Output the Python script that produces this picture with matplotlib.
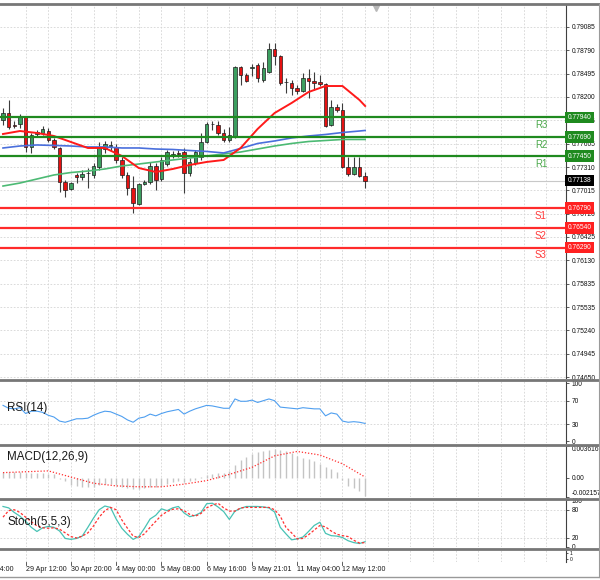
import matplotlib
matplotlib.use("Agg")
from matplotlib import pyplot as plt
from matplotlib import transforms
from matplotlib.lines import Line2D

plt.rcParams['font.family'] = ['Liberation Sans', 'DejaVu Sans']

# H4 candles, oldest first
opens = [0.77907, 0.77995, 0.77843, 0.77856, 0.77945, 0.77565, 0.77729, 0.77742, 0.77767, 0.77653,
         0.77552, 0.77121, 0.77032, 0.77210, 0.77184, 0.77235, 0.77210, 0.77311, 0.77539, 0.77577,
         0.77565, 0.77400, 0.77210, 0.77045, 0.76842, 0.77096, 0.77121, 0.77324, 0.77159, 0.77349,
         0.77463, 0.77489, 0.77501, 0.77235, 0.77362, 0.77438, 0.77628, 0.77856, 0.77843, 0.77742,
         0.77653, 0.77704, 0.78578, 0.78477, 0.78565, 0.78603, 0.78414, 0.78515, 0.78806, 0.78718,
         0.78388, 0.78375, 0.78312, 0.78274, 0.78439, 0.78401, 0.78388, 0.78363, 0.77843, 0.78071,
         0.78033, 0.77311, 0.77222, 0.77311, 0.77197]
highs = [0.78059, 0.78160, 0.77894, 0.77983, 0.77957, 0.77742, 0.77780, 0.77831, 0.77805, 0.77679,
         0.77565, 0.77146, 0.77121, 0.77235, 0.77273, 0.77298, 0.77362, 0.77628, 0.77641, 0.77641,
         0.77603, 0.77438, 0.77248, 0.77197, 0.77108, 0.77146, 0.77375, 0.77362, 0.77438, 0.77527,
         0.77514, 0.77527, 0.77552, 0.77425, 0.77527, 0.77742, 0.77881, 0.77894, 0.77894, 0.77793,
         0.77818, 0.78591, 0.78591, 0.78502, 0.78616, 0.78629, 0.78641, 0.78882, 0.78882, 0.78730,
         0.78439, 0.78414, 0.78350, 0.78502, 0.78553, 0.78515, 0.78477, 0.78375, 0.78160, 0.78109,
         0.78122, 0.77438, 0.77438, 0.77438, 0.77248]
lows = [0.77843, 0.77793, 0.77805, 0.77805, 0.77501, 0.77489, 0.77691, 0.77717, 0.77628, 0.77539,
        0.76994, 0.76931, 0.77020, 0.77108, 0.77146, 0.77045, 0.77172, 0.77273, 0.77489, 0.77514,
        0.77362, 0.77172, 0.76956, 0.76728, 0.76830, 0.77083, 0.77096, 0.77020, 0.77134, 0.77324,
        0.77425, 0.77438, 0.76982, 0.77197, 0.77337, 0.77400, 0.77615, 0.77780, 0.77717, 0.77628,
        0.77628, 0.77679, 0.78350, 0.78388, 0.78464, 0.78388, 0.78388, 0.78502, 0.78604, 0.78350,
        0.78249, 0.78223, 0.78236, 0.78261, 0.78185, 0.78287, 0.78337, 0.77818, 0.77831, 0.78008,
        0.77298, 0.77197, 0.77210, 0.77184, 0.77045]
closes = [0.77995, 0.77818, 0.77831, 0.77945, 0.77565, 0.77717, 0.77755, 0.77793, 0.77653, 0.77565,
          0.77121, 0.77020, 0.77108, 0.77184, 0.77222, 0.77229, 0.77324, 0.77552, 0.77603, 0.77584,
          0.77400, 0.77210, 0.77045, 0.76855, 0.77096, 0.77121, 0.77324, 0.77146, 0.77400, 0.77501,
          0.77476, 0.77482, 0.77235, 0.77375, 0.77501, 0.77628, 0.77856, 0.77850, 0.77742, 0.77653,
          0.77717, 0.78578, 0.78477, 0.78401, 0.78572, 0.78439, 0.78565, 0.78806, 0.78718, 0.78375,
          0.78382, 0.78312, 0.78274, 0.78439, 0.78401, 0.78375, 0.78363, 0.77831, 0.78071, 0.78033,
          0.77311, 0.77222, 0.77311, 0.77197, 0.77138]

# moving averages, read every 3 bars
ma_idx = [0, 3, 6, 9, 12, 15, 18, 21, 24, 27, 30, 33, 36, 39, 42, 45, 48, 51, 54, 57, 60, 63, 64]
ma_fast = [0.77729, 0.77767, 0.77742, 0.77704, 0.77628, 0.77552, 0.77552, 0.77451, 0.77298, 0.77248,
           0.77286, 0.77337, 0.77375, 0.77400, 0.77552, 0.77793, 0.77995, 0.78122, 0.78261, 0.78337,
           0.78337, 0.78160, 0.78084]
ma_mid = [0.77552, 0.77577, 0.77590, 0.77584, 0.77577, 0.77565, 0.77565, 0.77552, 0.77552, 0.77539,
          0.77533, 0.77520, 0.77508, 0.77489, 0.77546, 0.77609, 0.77641, 0.77679, 0.77704, 0.77723,
          0.77748, 0.77767, 0.77774]
ma_slow = [0.77070, 0.77108, 0.77159, 0.77210, 0.77241, 0.77260, 0.77286, 0.77324, 0.77349, 0.77375,
           0.77400, 0.77425, 0.77451, 0.77476, 0.77501, 0.77539, 0.77577, 0.77609, 0.77634, 0.77647,
           0.77660, 0.77660, 0.77660]

res_levels = [0.77450, 0.77690, 0.77940]
res_names = ['R1', 'R2', 'R3']
sup_levels = [0.76790, 0.76540, 0.76290]
sup_names = ['S1', 'S2', 'S3']
last_price = 0.77138

price_ticks = [0.79085, 0.78790, 0.78495, 0.78200, 0.77905, 0.77605, 0.77310, 0.77015,
               0.76720, 0.76425, 0.76130, 0.75835, 0.75535, 0.75240, 0.74945, 0.74650]

rsi = [62, 57, 56, 58, 48, 52, 52, 50, 45, 42,
       35, 33, 36, 39, 39, 40, 45, 49, 52, 51,
       47, 43, 37, 33, 40, 42, 47, 44, 48, 51,
       53, 55, 47, 52, 56, 59, 62, 61, 59, 57,
       57, 73, 69, 69, 71, 67, 70, 73, 70, 59,
       58, 57, 56, 58, 57, 56, 56, 44, 49, 47,
       35, 33, 34, 33, 31]

macd_hist = [0.0007, 0.0007, 0.0007, 0.0007, 0.0006, 0.0006, 0.0006, 0.0006, 0.0005, 0.0004,
             -0.0001, -0.0004, -0.0008, -0.0009, -0.0010, -0.0010, -0.0010, -0.0008, -0.0007, -0.0007,
             -0.0008, -0.0010, -0.0011, -0.0012, -0.0012, -0.0011, -0.0010, -0.0010, -0.0009, -0.0007,
             -0.0005, -0.0004, -0.0005, -0.0004, -0.0002, 0.0001, 0.0003, 0.0005, 0.0006, 0.0006,
             0.0008, 0.0015, 0.0020, 0.0024, 0.0027, 0.0029, 0.0030, 0.0032, 0.0033, 0.0032,
             0.0030, 0.0028, 0.0025, 0.0023, 0.0022, 0.0019, 0.0016, 0.0012, 0.0010, 0.0007,
             -0.0002, -0.0009, -0.0011, -0.0015, -0.0020]
sig_idx = [0, 4, 8, 12, 16, 20, 24, 28, 32, 36, 40, 44, 48, 52, 56, 60, 64]
macd_signal = [0.0006, 0.0007, 0.0008, 0.0001, -0.0006, -0.0009, -0.0010, -0.0010, -0.0007,
               -0.0003, 0.0004, 0.0012, 0.0025, 0.0030, 0.0026, 0.0016, 0.0001]
macd_top, macd_bottom = 0.003616, -0.002157

stoch_k = [87, 84, 74, 66, 55, 42, 33, 41, 44, 42,
           34, 18, 16, 18, 23, 42, 62, 80, 88, 85,
           60, 40, 27, 16, 22, 40, 60, 68, 82, 78,
           84, 87, 73, 65, 68, 74, 93, 94, 86, 76,
           59, 77, 83, 87, 87, 87, 86, 84, 75, 42,
           28, 15, 17, 21, 33, 46, 53, 29, 24, 23,
           20, 13, 9, 7, 11]
stoch_d = [64, 78, 80, 74, 64, 54, 45, 41, 40, 41,
           38, 30, 22, 19, 23, 30, 45, 64, 78, 85,
           80, 58, 40, 23, 20, 28, 42, 55, 68, 76,
           81, 82, 78, 70, 66, 72, 84, 90, 94, 84,
           77, 77, 84, 85, 85, 85, 85, 85, 80, 66,
           42, 30, 17, 18, 26, 36, 46, 43, 34, 27,
           24, 22, 14, 8, 9]

time_pos = [-5.3, 4, 12, 20, 28, 36, 44, 52, 60]
time_labels = ['28 Apr 04:00', '29 Apr 12:00', '30 Apr 20:00', '4 May 00:00', '5 May 08:00',
               '6 May 16:00', '9 May 21:01', '11 May 04:00', '12 May 12:00']

W, H = 600, 580
fig = plt.figure(figsize=(W / 100, H / 100), dpi=100)
grid_kw = dict(color='#d4d4d4', lw=0.6, ls=(0, (2, 2)))


def panel(top, bottom):
    a = fig.add_axes([0, 1 - bottom / H, 566 / W, (bottom - top) / H])
    a.set_xlim(-0.53, 99.5)
    a.set_xticks(range(4, 100, 4))
    a.tick_params(axis='x', length=0, labelbottom=False)
    a.grid(True, axis='x', **grid_kw)
    a.yaxis.tick_right()
    a.tick_params(axis='y', length=2.5, width=0.6, color='#404040', pad=1.5,
                  labelsize=4.8, labelcolor='#111111')
    for s in ['left', 'top', 'bottom']:
        a.spines[s].set_visible(False)
    a.spines['right'].set_color('#404040')
    a.set_axisbelow(True)
    return a


ax = panel(4, 378)
ax_rsi = panel(381, 443)
ax_macd = panel(446, 497)
ax_sto = panel(500, 547)
ax_nil = panel(550, 562)

# MAIN
ax.set_ylim(0.74638, 0.79376)
ax.set_yticks(price_ticks)
ax.set_yticklabels(['%.5f' % p for p in price_ticks])
ax.grid(True, axis='y', **grid_kw)

n = len(closes)
idx = list(range(n))
bull = [c >= o for o, c in zip(opens, closes)]
body_lo = [min(o, c) for o, c in zip(opens, closes)]
body_h = [max(abs(c - o), 0.00003) for o, c in zip(opens, closes)]
ax.axhline(last_price, color='#c8c8c8', lw=0.8, zorder=1)
ax.vlines(idx, lows, highs, color='#3c3c3c', lw=0.8, zorder=3)
ax.bar(idx, body_h, bottom=body_lo, width=0.62,
       color=['#3c9f60' if b else '#e51212' for b in bull],
       edgecolor='#1e1e1e', lw=0.5, zorder=4)

ax.plot(ma_idx, ma_slow, color='#4cba74', lw=1.2, zorder=5)
ax.plot(ma_idx, ma_mid, color='#4a6fdc', lw=1.2, zorder=5)
ax.plot(ma_idx, ma_fast, color='#ff1a1a', lw=1.4, zorder=5)

ytrans = transforms.blended_transform_factory(ax.transAxes, ax.transData)
for v, name in zip(res_levels, res_names):
    ax.axhline(v, color='#1f8a1f', lw=1.6, zorder=6)
    ax.text(94, v - 0.00100, name, color='#4aa84a', fontsize=7, ha='left', va='center', zorder=7)
    ax.text(1.003, v, '%.5f' % v, transform=ytrans, color='white', fontsize=4.8, ha='left',
            va='center', clip_on=False, zorder=10,
            bbox=dict(boxstyle='square,pad=0.35', fc='#1f8a1f', ec='none'))
for v, name in zip(sup_levels, sup_names):
    ax.axhline(v, color='#ff2b2b', lw=1.6, zorder=6)
    ax.text(94, v - 0.00100, name, color='#ff3b3b', fontsize=7, ha='left', va='center', zorder=7)
    ax.text(1.003, v, '%.5f' % v, transform=ytrans, color='white', fontsize=4.8, ha='left',
            va='center', clip_on=False, zorder=10,
            bbox=dict(boxstyle='square,pad=0.35', fc='#ff2020', ec='none'))
ax.text(1.003, last_price, '%.5f' % last_price, transform=ytrans, color='white', fontsize=4.8,
        ha='left', va='center', clip_on=False, zorder=10,
        bbox=dict(boxstyle='square,pad=0.35', fc='#000000', ec='none'))

# chart shift marker
ax.plot([66], [0.99], marker='v', ms=4, color='#b8b8b8',
        transform=transforms.blended_transform_factory(ax.transData, ax.transAxes), clip_on=False)

# RSI
ax_rsi.set_ylim(-2.6, 103.8)
ax_rsi.set_yticks([0, 30, 70, 100])
for lv in [30, 70]:
    ax_rsi.axhline(lv, **grid_kw)
ax_rsi.plot(idx, rsi, color='#4f9ff0', lw=0.8)
ax_rsi.text(7 / 566, 0.565, 'RSI(14)', transform=ax_rsi.transAxes, fontsize=8.4,
            color='#1a1a1a', va='center')

# MACD
ax_macd.set_ylim(macd_bottom, macd_top)
ax_macd.set_yticks([macd_top, 0.0, macd_bottom])
ax_macd.set_yticklabels(['%.6f' % macd_top, '0.00', '%.6f' % macd_bottom])
lbls = ax_macd.get_yticklabels()
lbls[0].set_va('top')
lbls[2].set_va('bottom')
ax_macd.vlines(idx, 0, macd_hist, color='#c4c4c4', lw=1.0)
ax_macd.plot(sig_idx, macd_signal, color='#ff3030', lw=0.9, ls=(0, (1, 1.5)))
ax_macd.text(7 / 566, 0.784, 'MACD(12,26,9)', transform=ax_macd.transAxes, fontsize=8.4,
             color='#1a1a1a', va='center')

# STOCH
ax_sto.set_ylim(-0.5, 101)
ax_sto.set_yticks([0, 20, 80, 100])
for lv in [20, 80]:
    ax_sto.axhline(lv, **grid_kw)
ax_sto.plot(idx, stoch_k, color='#48c2b4', lw=0.9)
ax_sto.plot(idx, stoch_d, color='#ff3030', lw=0.9, ls=(0, (2, 1.5)))
ax_sto.text(7 / 566, 0.53, 'Stoch(5,5,3)', transform=ax_sto.transAxes, fontsize=8.4,
            color='#1a1a1a', va='center')

# empty bottom window + time axis
ax_nil.set_ylim(-0.6, 1.6)
ax_nil.set_yticks([0, 1])
ax_nil.set_yticklabels(['0', '1'])
ax_nil.tick_params(axis='y', labelsize=3.6, length=1.5, pad=1)
xtrans = transforms.blended_transform_factory(ax_nil.transData, ax_nil.transAxes)
for p, lab in zip(time_pos, time_labels):
    ax_nil.text(p, -0.3, lab, transform=xtrans, fontsize=5.1, color='#1a1a1a',
                ha='left', va='top', clip_on=False)
    ax_nil.plot([p, p], [0, -0.25], color='#404040', lw=0.6, transform=xtrans, clip_on=False)

# window separators
for ypx in [3.5, 379.5, 444.5, 498.5, 548.5]:
    fig.add_artist(Line2D([0, 1], [1 - ypx / H] * 2, color='#777777', lw=2.0))
fig.add_artist(Line2D([0, 1], [1 - 577 / H] * 2, color='#999999', lw=1.0))
fig.add_artist(Line2D([598.5 / W] * 2, [1 - 3.5 / H, 1 - 577 / H], color='#9a9a9a', lw=0.8))

fig.savefig('out.png', dpi=100, facecolor='white')
